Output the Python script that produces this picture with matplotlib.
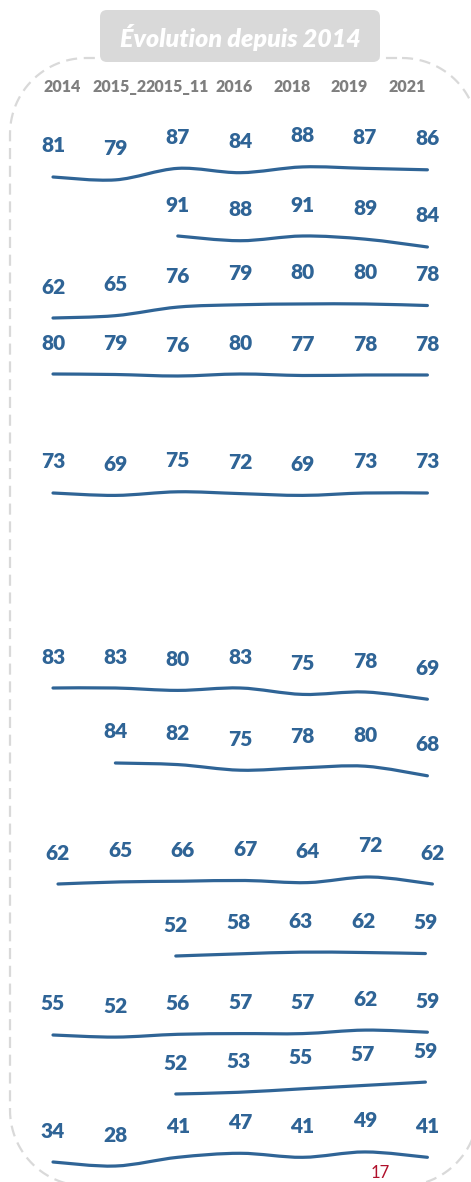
import numpy as np
import matplotlib
matplotlib.use("Agg")
import matplotlib.pyplot as plt
from matplotlib.path import Path
from matplotlib.patches import PathPatch, FancyBboxPatch

plt.rcParams['font.family'] = ['Lato', 'DejaVu Sans']

# ---------------- data ----------------
title = "Évolution depuis 2014"
years = ["2014", "2015_2", "2015_11", "2016", "2018", "2019", "2021"]
page_number = "17"

s01 = [81, 79, 87, 84, 88, 87, 86]
s02 = [None, None, 91, 88, 91, 89, 84]
s03 = [62, 65, 76, 79, 80, 80, 78]
s04 = [80, 79, 76, 80, 77, 78, 78]
s05 = [73, 69, 75, 72, 69, 73, 73]
s06 = [83, 83, 80, 83, 75, 78, 69]
s07 = [None, 84, 82, 75, 78, 80, 68]
s08 = [62, 65, 66, 67, 64, 72, 62]
s09 = [None, None, 52, 58, 63, 62, 59]
s10 = [55, 52, 56, 57, 57, 62, 59]
s11 = [None, None, 52, 53, 55, 57, 59]
s12 = [34, 28, 41, 47, 41, 49, 41]
series = [s01, s02, s03, s04, s05, s06, s07, s08, s09, s10, s11, s12]

# ---------------- layout (pixels) ----------------
W, H = 471, 1182
col_x0, col_dx = 53, 62.4          # first column centre and spacing
row_anchor_px = [177, 236, 318, 374, 493, 688, 763, 884, 956, 1035, 1094, 1162]
row_scale = [1.44, 1.57, 0.78, 0.5, 0.6, 0.8, 0.8, 0.7, 0.35, 0.7, 1.7, 0.67]
row_shift = [0, 0, 0, 0, 0, 0, 0, 5, -2, 0, -2, 0]

BLUE = '#2F6496'
GREY = '#7F7F7F'

fig = plt.figure(figsize=(W / 100, H / 100), dpi=100)

bg = fig.add_axes([0, 0, 1, 1])
bg.set_xlim(0, W)
bg.set_ylim(H, 0)
bg.axis('off')

# dashed rounded frame (drawn as an explicit rounded rectangle outline)
fl, ft, fr, fb, rad = 10, 58, 478, 1186, 76
t = np.linspace(0, np.pi / 2, 30)
corners = [
    (fr - rad, ft + rad, -np.pi / 2, 0),          # top-right
    (fr - rad, fb - rad, 0, np.pi / 2),           # bottom-right
    (fl + rad, fb - rad, np.pi / 2, np.pi),       # bottom-left
    (fl + rad, ft + rad, np.pi, 1.5 * np.pi),     # top-left
]
fx, fy = [], []
for cx, cy, a0, a1 in corners:
    a = np.linspace(a0, a1, 30)
    fx.extend(cx + rad * np.cos(a))
    fy.extend(cy + rad * np.sin(a))
fx.append(fx[0])
fy.append(fy[0])
bg.plot(fx, fy, color='#D9D9D9', linewidth=1.6, linestyle=(0, (5, 3)),
        zorder=1)

# title box
tbox = FancyBboxPatch((100, 10), 280, 52,
                      boxstyle="round,pad=0,rounding_size=7",
                      facecolor='#D9D9D9', edgecolor='none', zorder=2)
bg.add_patch(tbox)
bg.text(240, 47, title, ha='center', va='baseline', color='white',
        fontsize=18, fontweight='heavy', fontstyle='italic', zorder=3)

# column headers
for i, y in enumerate(years):
    bg.text(62 + 57.5 * i, 92, y, ha='center', va='baseline', color=GREY,
            fontsize=11.5, fontweight='heavy', zorder=3)

bg.text(380, 1178, page_number, ha='center', va='baseline',
        color='#B0102B', fontsize=12, zorder=3)


def smooth_path(xs, ys):
    pts = np.column_stack([xs, ys]).astype(float)
    n = len(pts)
    verts = [pts[0]]
    codes = [Path.MOVETO]
    for i in range(n - 1):
        p0 = pts[i - 1] if i > 0 else pts[i]
        p1 = pts[i]
        p2 = pts[i + 1]
        p3 = pts[i + 2] if i + 2 < n else pts[i + 1]
        c1 = p1 + (p2 - p0) / 6.0
        c2 = p2 - (p3 - p1) / 6.0
        verts += [c1, c2, p2]
        codes += [Path.CURVE4] * 3
    return Path(verts, codes)


for vals, anchor, sc, dx in zip(series, row_anchor_px, row_scale, row_shift):
    idx = [i for i, v in enumerate(vals) if v is not None]
    v = [vals[i] for i in idx]
    ax = fig.add_axes([0, 0, 1, 1])
    ax.patch.set_alpha(0)
    ax.axis('off')
    x0 = col_x0 + dx
    ax.set_xlim(-x0 / col_dx, (W - x0) / col_dx)
    va0 = v[0]
    v_top = va0 + anchor / sc
    v_bot = va0 - (H - anchor) / sc
    ax.set_ylim(v_bot, v_top)
    path = smooth_path(idx, v)
    ax.add_patch(PathPatch(path, fill=False, edgecolor=BLUE, linewidth=2.3,
                           capstyle='round', joinstyle='round', zorder=4))
    for i, val in zip(idx, v):
        ax.annotate(str(val), (i, val), xytext=(0, 24.5),
                    textcoords='offset pixels', ha='center', va='baseline',
                    color=BLUE, fontsize=15, fontweight='heavy',
                    annotation_clip=False, zorder=5)

fig.savefig('out.png', dpi=100)
